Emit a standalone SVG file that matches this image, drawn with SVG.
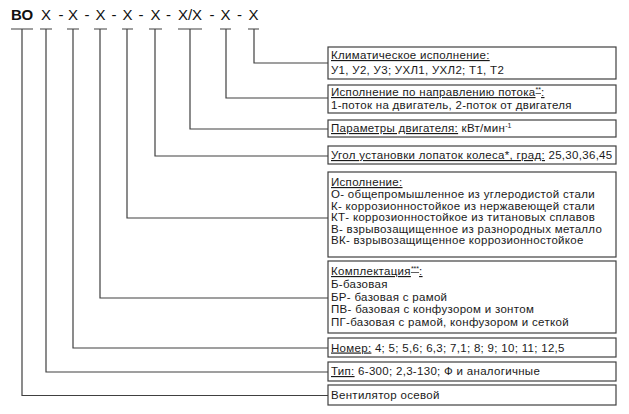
<svg xmlns="http://www.w3.org/2000/svg" width="629" height="414" viewBox="0 0 629 414">
<style>
.bg{fill:#ffffff}
.box{fill:#ffffff;stroke:#404040;stroke-width:1.2}
.ln{fill:none;stroke:#404040;stroke-width:1.2}
.t{font-family:"Liberation Sans",Arial,sans-serif;font-size:11.5px;letter-spacing:0.3px;fill:#1a1a1a}
.u{text-decoration:underline}
.sup{font-size:7px;letter-spacing:0}
.h{font-family:"Liberation Sans",Arial,sans-serif;font-size:15px;fill:#111;text-anchor:middle}
.hb{font-weight:bold}
</style>
<rect class="bg" x="0" y="0" width="629" height="414"/>
<g id="code">
<text class="h hb" x="22" y="20">ВО</text>
<text class="h" x="46" y="20">Х</text>
<text class="h" x="61" y="20">-</text>
<text class="h" x="73" y="20">Х</text>
<text class="h" x="87" y="20">-</text>
<text class="h" x="100.5" y="20">Х</text>
<text class="h" x="114" y="20">-</text>
<text class="h" x="127.5" y="20">Х</text>
<text class="h" x="141" y="20">-</text>
<text class="h" x="155.5" y="20">Х</text>
<text class="h" x="168.5" y="20">-</text>
<text class="h" x="190" y="20">Х/Х</text>
<text class="h" x="212" y="20">-</text>
<text class="h" x="225.5" y="20">Х</text>
<text class="h" x="239.5" y="20">-</text>
<text class="h" x="253.5" y="20">Х</text>
</g>
<g id="connectors">
<path class="ln" d="M11 29H33 M40 29H52 M67 29H79 M94 29H107 M122 29H133 M149 29H162 M178 29H202 M220 29H231 M248 29H259"/>
<path class="ln" d="M254 29V63H328"/>
<path class="ln" d="M226 29V98H328"/>
<path class="ln" d="M190 29V129H328"/>
<path class="ln" d="M155 29V156H328"/>
<path class="ln" d="M127 29V218H328"/>
<path class="ln" d="M100 29V298H328"/>
<path class="ln" d="M73 29V348H328"/>
<path class="ln" d="M46 29V372H328"/>
<path class="ln" d="M22 29V395.5H328"/>
</g>
<g id="n-climate">
<rect class="box" x="328" y="47" width="288" height="32"/>
<text class="t" x="331" y="59"><tspan class="u">Климатическое исполнение:</tspan></text>
<text class="t" x="331" y="74">У1, У2, У3; УХЛ1, УХЛ2; Т1, Т2</text>
</g>
<g id="n-flow">
<rect class="box" x="328" y="85" width="288" height="28"/>
<text class="t" x="331" y="96"><tspan class="u">Исполнение по направлению потока<tspan class="sup" dy="-4">**</tspan><tspan dy="4">:</tspan></tspan></text>
<text class="t" x="331" y="109">1-поток на двигатель, 2-поток от двигателя</text>
</g>
<g id="n-motor">
<rect class="box" x="328" y="120" width="288" height="17"/>
<text class="t" x="331" y="132"><tspan class="u">Параметры двигателя:</tspan> кВт/мин<tspan class="sup" dy="-4">-1</tspan></text>
</g>
<g id="n-angle">
<rect class="box" x="328" y="146" width="288" height="18"/>
<text class="t" x="331" y="159"><tspan class="u">Угол установки лопаток колеса*, град:</tspan> 25,30,36,45</text>
</g>
<g id="n-exec">
<rect class="box" x="328" y="172" width="288" height="85"/>
<text class="t" x="331" y="186"><tspan class="u">Исполнение:</tspan></text>
<text class="t" x="331" y="198">О- общепромышленное из углеродистой стали</text>
<text class="t" x="331" y="209.5">К- коррозионностойкое из нержавеющей стали</text>
<text class="t" x="331" y="221">КТ- коррозионностойкое из титановых сплавов</text>
<text class="t" x="331" y="232.5">В- взрывозащищенное из разнородных металло</text>
<text class="t" x="331" y="244">ВК- взрывозащищенное коррозионностойкое</text>
</g>
<g id="n-kit">
<rect class="box" x="328" y="261" width="288" height="72"/>
<text class="t" x="331" y="275"><tspan class="u">Комплектация<tspan class="sup" dy="-4">***</tspan><tspan dy="4">:</tspan></tspan></text>
<text class="t" x="331" y="288">Б-базовая</text>
<text class="t" x="331" y="300.5">БР- базовая с рамой</text>
<text class="t" x="331" y="313">ПВ- базовая с конфузором и зонтом</text>
<text class="t" x="331" y="325.5">ПГ-базовая с рамой, конфузором и сеткой</text>
</g>
<g id="n-number">
<rect class="box" x="328" y="338" width="288" height="19"/>
<text class="t" x="331" y="351.5"><tspan class="u">Номер:</tspan> 4; 5; 5,6; 6,3; 7,1; 8; 9; 10; 11; 12,5</text>
</g>
<g id="n-type">
<rect class="box" x="328" y="362" width="288" height="19"/>
<text class="t" x="331" y="375"><tspan class="u">Тип:</tspan> 6-300; 2,3-130; Ф и аналогичные</text>
</g>
<g id="n-fan">
<rect class="box" x="328" y="385" width="288" height="20"/>
<text class="t" x="331" y="399">Вентилятор осевой</text>
</g>
</svg>
